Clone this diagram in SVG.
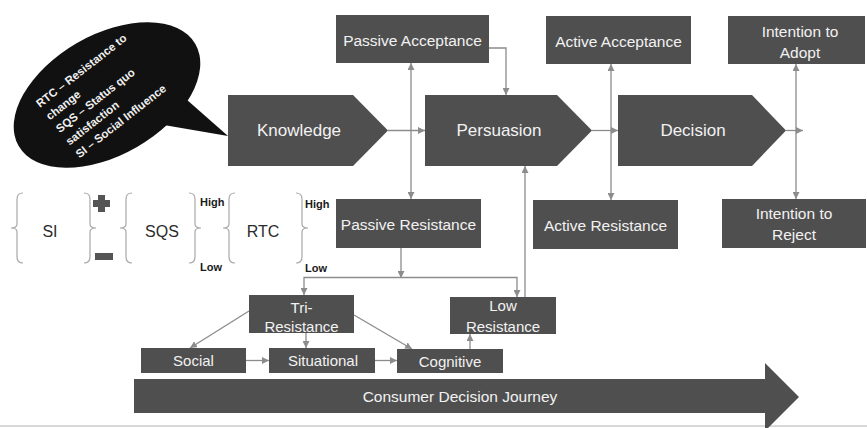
<svg xmlns="http://www.w3.org/2000/svg" width="867" height="428" viewBox="0 0 867 428">
<defs>
<style>
.box{fill:#4f4f4f}
.lbl{fill:#f2f2f2;font-family:"Liberation Sans",Arial,sans-serif;font-size:15.5px;text-anchor:middle;dominant-baseline:central}
.big{font-size:17px}
.sm{font-size:15px}
.con{fill:none;stroke:#8c8c8c;stroke-width:1.3}
.brace{fill:none;stroke:#a8a8a8;stroke-width:1.2}
.dk{fill:#2b2b2b;font-family:"Liberation Sans",Arial,sans-serif;text-anchor:middle;dominant-baseline:central}
.hl{fill:#1a1a1a;font-family:"Liberation Sans",Arial,sans-serif;font-size:11px;font-weight:bold}
</style>
<marker id="ah" viewBox="0 0 10 10" refX="10" refY="5" markerWidth="7" markerHeight="7" markerUnits="userSpaceOnUse" orient="auto-start-reverse">
<path d="M0,0 L10,5 L0,10 z" fill="#8c8c8c"/>
</marker>
</defs>
<rect width="867" height="428" fill="#ffffff"/>
<line x1="0" y1="426" x2="867" y2="426" stroke="#cccccc" stroke-width="1.5"/>

<g id="bubble">
<ellipse cx="107" cy="95" rx="102" ry="60" transform="rotate(-30 107 95)" fill="#111111"/>
<polygon points="178,92 228,136 158,124" fill="#111111"/>
<text transform="translate(40,108) rotate(-38)" font-family="'Liberation Sans',Arial,sans-serif" font-size="11.5px" font-weight="bold" fill="#f0f0f0">
<tspan x="0" dy="0">RTC – Resistance to</tspan>
<tspan x="0" dy="16">change</tspan>
<tspan x="0" dy="16">SQS – Status quo</tspan>
<tspan x="0" dy="16">satisfaction</tspan>
<tspan x="0" dy="16">SI – Social Influence</tspan>
</text>
</g>

<g id="legend">
<path class="brace" d="M23,193 Q17,193 17,199 L17,224 Q17,228 11,228 Q17,228 17,232 L17,257 Q17,263 23,263"/>
<text class="dk" x="50" y="231" font-size="16px">SI</text>
<path class="brace" d="M84,193 Q90,193 90,199 L90,224 Q90,228 96,228 Q90,228 90,232 L90,257 Q90,263 84,263"/>
<rect x="98" y="195" width="7" height="17" fill="#555"/>
<rect x="93" y="200" width="17" height="7" fill="#555"/>
<rect x="95" y="253" width="18" height="7" fill="#555"/>
<path class="brace" d="M132,193 Q126,193 126,199 L126,224 Q126,228 120,228 Q126,228 126,232 L126,257 Q126,263 132,263"/>
<text class="dk" x="162" y="231" font-size="16px">SQS</text>
<path class="brace" d="M189,193 Q195,193 195,199 L195,224 Q195,228 201,228 Q195,228 195,232 L195,257 Q195,263 189,263"/>
<text class="hl" x="200" y="206">High</text>
<text class="hl" x="200" y="271">Low</text>
<path class="brace" d="M235,193 Q229,193 229,199 L229,224 Q229,228 223,228 Q229,228 229,232 L229,257 Q229,263 235,263"/>
<text class="dk" x="263" y="231" font-size="16px">RTC</text>
<path class="brace" d="M296,193 Q302,193 302,199 L302,224 Q302,228 308,228 Q302,228 302,232 L302,257 Q302,263 296,263"/>
<text class="hl" x="305" y="208">High</text>
<text class="hl" x="305" y="272">Low</text>
</g>

<g id="connectors">
<path class="con" marker-end="url(#ah)" d="M388,130.5 H425"/>
<path class="con" marker-end="url(#ah)" d="M592,130.5 H618"/>
<path class="con" marker-end="url(#ah)" d="M786,130.5 H803"/>
<path class="con" marker-end="url(#ah)" d="M489,48 H506 V95"/>
<path class="con" marker-start="url(#ah)" marker-end="url(#ah)" d="M411,63 V199"/>
<path class="con" marker-start="url(#ah)" marker-end="url(#ah)" d="M611,64 V200"/>
<path class="con" marker-start="url(#ah)" marker-end="url(#ah)" d="M796,64 V199"/>
<path class="con" marker-end="url(#ah)" d="M401,248 V278"/>
<path class="con" marker-start="url(#ah)" marker-end="url(#ah)" d="M304,295 V277.5 H517 V297"/>
<path class="con" marker-end="url(#ah)" d="M525,297 V166"/>
<path class="con" marker-end="url(#ah)" d="M249,311 L190,348"/>
<path class="con" marker-end="url(#ah)" d="M306,333 V348"/>
<path class="con" marker-end="url(#ah)" d="M354,315 L412,349"/>
<path class="con" marker-end="url(#ah)" d="M246,360.5 H269"/>
<path class="con" marker-end="url(#ah)" d="M375,360.5 H397"/>
<path class="con" marker-end="url(#ah)" d="M470,349 V334"/>
</g>

<g id="knowledge">
<polygon class="box" points="228,95 353,95 388,130.5 353,166 228,166"/>
<text class="lbl big" x="299" y="130.5">Knowledge</text>
</g>
<g id="persuasion">
<polygon class="box" points="425,95 557,95 592,130.5 557,166 425,166"/>
<text class="lbl big" x="499" y="130.5">Persuasion</text>
</g>
<g id="decision">
<polygon class="box" points="618,95 752,95 786,130.5 752,166 618,166"/>
<text class="lbl big" x="693" y="130.5">Decision</text>
</g>
<g id="passive-acceptance">
<rect class="box" x="336" y="15" width="153" height="48"/>
<text class="lbl" x="412.5" y="40">Passive Acceptance</text>
</g>
<g id="active-acceptance">
<rect class="box" x="546" y="16" width="145" height="48"/>
<text class="lbl" x="618.5" y="41">Active Acceptance</text>
</g>
<g id="intention-adopt">
<rect class="box" x="728" y="16" width="137" height="48"/>
<text class="lbl" x="800" y="31" font-size="16.5px">Intention to</text>
<text class="lbl" x="800" y="52" font-size="16.5px">Adopt</text>
</g>
<g id="passive-resistance">
<rect class="box" x="336" y="199" width="145" height="49"/>
<text class="lbl" x="408.5" y="224">Passive Resistance</text>
</g>
<g id="active-resistance">
<rect class="box" x="533" y="200" width="145" height="49"/>
<text class="lbl" x="605.5" y="225">Active Resistance</text>
</g>
<g id="intention-reject">
<rect class="box" x="722" y="199" width="144" height="49"/>
<text class="lbl" x="794" y="213" font-size="16.5px">Intention to</text>
<text class="lbl" x="794" y="234" font-size="16.5px">Reject</text>
</g>
<g id="tri-resistance">
<rect class="box" x="249" y="295" width="105" height="38"/>
<text class="lbl sm" x="301.5" y="307">Tri-</text>
<text class="lbl sm" x="301.5" y="326">Resistance</text>
</g>
<g id="low-resistance">
<rect class="box" x="450" y="297" width="106" height="37"/>
<text class="lbl sm" x="503" y="305">Low</text>
<text class="lbl sm" x="503" y="326">Resistance</text>
</g>
<g id="social">
<rect class="box" x="141" y="348" width="105" height="25"/>
<text class="lbl sm" x="193.5" y="360.5">Social</text>
</g>
<g id="situational">
<rect class="box" x="269" y="348" width="106" height="25"/>
<text class="lbl sm" x="323" y="360">Situational</text>
</g>
<g id="cognitive">
<rect class="box" x="397" y="349" width="106" height="24"/>
<text class="lbl sm" x="450" y="361">Cognitive</text>
</g>
<g id="journey">
<polygon class="box" points="134,379 765,379 765,363 799,397 765,431 765,413 134,413"/>
<text class="lbl" x="460" y="396">Consumer Decision Journey</text>
</g>
</svg>
